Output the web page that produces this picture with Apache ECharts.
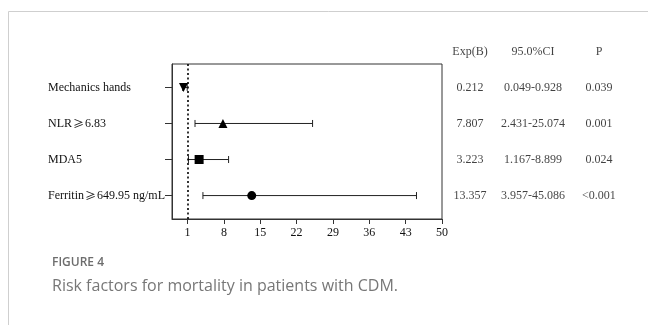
<!DOCTYPE html>
<html><head><meta charset="utf-8">
<script src="https://cdn.jsdelivr.net/npm/echarts@6/dist/echarts.min.js"></script>
<style>html,body{margin:0;padding:0;background:#fff}#c{width:648px;height:325px}</style>
</head><body><div id="c"></div>
<script>
// ---- data ----
const factors   = ['Mechanics hands', 'NLR\u22656.83', 'MDA5', 'Ferritin\u2265649.95 ng/mL'];
const rowPos    = [4, 3, 2, 1];
const estimates = [0.212, 7.807, 3.223, 13.357];
const lowerCI   = [0.049, 2.431, 1.167, 3.957];
const upperCI   = [0.928, 25.074, 8.899, 45.086];
const expBText  = ['0.212', '7.807', '3.223', '13.357'];
const ciText    = ['0.049-0.928', '2.431-25.074', '1.167-8.899', '3.957-45.086'];
const pText     = ['0.039', '0.001', '0.024', '<0.001'];
const headers   = ['Exp(B)', '95.0%CI', 'P'];
const xTicks    = [1, 8, 15, 22, 29, 36, 43, 50];
const refValue  = 1;

// ---- layout/style ----
const serif = '"Liberation Serif", "Times New Roman", "Noto Serif", serif';
const symbols = [
  {symbol: 'triangle', rotate: 180},
  {symbol: 'triangle', rotate: 0},
  {symbol: 'rect', rotate: 0},
  {symbol: 'circle', rotate: 0}
];
const colCenters = [0.136, 0.442, 0.762];
const headerRow = 5.0;
const fs = 12;

const chart = echarts.init(document.getElementById('c'), null, {renderer: 'canvas'});

const tableData = [];
headers.forEach((h, j) => tableData.push({value: [colCenters[j], headerRow], label: {formatter: h}}));
factors.forEach((f, i) => {
  [expBText[i], ciText[i], pText[i]].forEach((t, j) => {
    tableData.push({value: [colCenters[j], rowPos[i]], label: {formatter: t}});
  });
});

function richLabel(s) {
  return s.split('\u2265').join('{ge|\u2265}');
}

const option = {
  animation: false,
  backgroundColor: '#fff',
  title: [
    {text: 'FIGURE 4', left: 47, top: 252,
     textStyle: {fontFamily: '"Open Sans", "Noto Sans", sans-serif', fontSize: 12, fontWeight: 600, color: '#6d6d6d'}},
    {text: 'Risk factors for mortality in patients with CDM.', left: 47, top: 273,
     textStyle: {fontFamily: '"Open Sans", "Noto Sans", sans-serif', fontSize: 16, fontWeight: 'normal', color: '#777'}}
  ],
  graphic: [
    {type: 'line', shape: {x1: 8.5, y1: 11.5, x2: 648, y2: 11.5}, style: {stroke: '#cfcfcf', lineWidth: 1}},
    {type: 'line', shape: {x1: 8.5, y1: 11.5, x2: 8.5, y2: 325}, style: {stroke: '#cfcfcf', lineWidth: 1}}
  ],
  grid: [
    {left: 172, right: 206, top: 64, bottom: 106, show: true, borderColor: '#333', borderWidth: 1, backgroundColor: 'transparent'},
    {left: 442, right: 0, top: 64, bottom: 106, show: false}
  ],
  xAxis: [
    {type: 'value', gridIndex: 0, min: -2, max: 50,
     splitLine: {show: false},
     axisLine: {show: true, onZero: false, lineStyle: {color: '#333'}},
     axisTick: {show: true, customValues: xTicks, length: 5, lineStyle: {color: '#333'}},
     axisLabel: {customValues: xTicks, margin: 8, fontFamily: serif, fontSize: fs, color: '#111'}},
    {type: 'value', gridIndex: 1, min: 0, max: 1, show: false}
  ],
  yAxis: [
    {type: 'value', gridIndex: 0, min: 0.35, max: 4.65,
     splitLine: {show: false},
     axisLine: {show: true, onZero: false, lineStyle: {color: '#333'}},
     axisTick: {show: true, customValues: rowPos, length: 7, lineStyle: {color: '#333'}},
     axisLabel: {customValues: rowPos, align: 'left', margin: 124, fontFamily: serif, fontSize: fs, color: '#111',
       rich: {ge: {fontFamily: '"Noto Sans CJK SC", sans-serif', fontSize: 11, color: '#111', padding: [0, 1, 0, 1]}},
       formatter: v => { const i = rowPos.indexOf(v); return i >= 0 ? richLabel(factors[i]) : ''; }}},
    {type: 'value', gridIndex: 1, min: 0.35, max: 4.65, show: false}
  ],
  series: [
    {
      type: 'custom', xAxisIndex: 0, yAxisIndex: 0, clip: false,
      data: factors.map((f, i) => [lowerCI[i], upperCI[i], rowPos[i]]),
      renderItem: (params, api) => {
        const a = api.coord([api.value(0), api.value(2)]);
        const b = api.coord([api.value(1), api.value(2)]);
        const h = 3.5;
        const st = {stroke: '#222', lineWidth: 1};
        return {type: 'group', children: [
          {type: 'line', shape: {x1: a[0], y1: a[1], x2: b[0], y2: b[1]}, style: st},
          {type: 'line', shape: {x1: a[0], y1: a[1] - h, x2: a[0], y2: a[1] + h}, style: st},
          {type: 'line', shape: {x1: b[0], y1: b[1] - h, x2: b[0], y2: b[1] + h}, style: st}
        ]};
      },
      markLine: {
        silent: true, symbol: 'none', label: {show: false},
        lineStyle: {type: [2, 2.5], color: '#000', width: 1.6},
        data: [{xAxis: refValue}]
      },
      z: 2
    },
    {
      type: 'scatter', xAxisIndex: 0, yAxisIndex: 0, clip: false,
      data: factors.map((f, i) => ({
        value: [estimates[i], rowPos[i]],
        symbol: symbols[i].symbol, symbolRotate: symbols[i].rotate,
        symbolSize: 9
      })),
      itemStyle: {color: '#000', opacity: 1},
      z: 3
    },
    {
      type: 'scatter', xAxisIndex: 1, yAxisIndex: 1, clip: false,
      symbolSize: 1, data: tableData,
      itemStyle: {color: 'rgba(0,0,0,0)'},
      label: {show: true, position: 'inside', color: '#111', fontFamily: serif, fontSize: fs}
    }
  ]
};
chart.setOption(option);
</script></body></html>
